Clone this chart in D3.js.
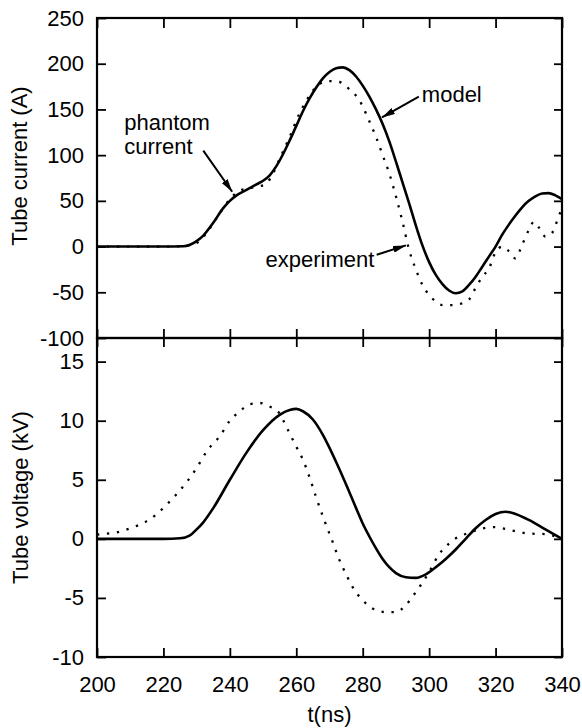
<!DOCTYPE html>
<html><head><meta charset="utf-8">
<script src="https://cdn.jsdelivr.net/npm/d3@7"></script>
<style>
body{margin:0;background:#fff}
text{font-family:"Liberation Sans",Arial,Helvetica,sans-serif;fill:#000}
</style>
</head><body>
<svg id="chart" width="582" height="728"></svg>
<script>
// ---------- data ----------
const xTicks = [200,220,240,260,280,300,320,340];
const currentTicks = [-100,-50,0,50,100,150,200,250];
const voltageTicks = [-10,-5,0,5,10,15];

const currentModelT = [200,210,220,226,228,230,232,235,238,240,242,245,248,250,252,254,256,258,260,262,264,266,268,270,272,274,276,278,280,282,284,286,288,290,292,294,296,298,300,302,304,306,308,310,312,314,316,318,320,322,324,326,328,330,332,334,336,338,340];
const currentModelV = [0,0,0,0.3,2,6,12,26,42,50,56,62,68,72,78,88,101,116,132,148,162,174,184,191,195,196,193,186,176,164,150,134,115,93,70,47,23,1,-17,-31,-41,-48,-51,-49,-42,-33,-22,-11,0,13,24,34,43,50,55,58,58.5,56,52];

const currentExpT = [200,210,220,226,230,233,236,238,240,243,246,249,251,253,255,258,261,264,267,270,273,276,279,282,284,286,288,290,292,294,296,298,300,302,304,307,310,312,314,316,318,320,322,324,326,328,330,331.5,333,335,337,339,340];
const currentExpV = [0,0,0,0.5,4,15,31,42,52,61,64,66,69,80,96,120,146,165,178,181,180,172,160,137,120,100,80,55,27,-4,-25,-42,-53,-60,-64,-64,-62,-58,-45,-33,-24,-6,0,-5,-13,2,18,27,21,11,15,33,42];

const voltModelT = [200,210,220,225,228,230,232,235,240,245,250,255,258,260,262,265,268,270,272,275,278,280,282,284,286,288,290,293,296,299,302,305,308,311,314,317,320,323,326,330,335,340];
const voltModelV = [0,0,0,0.05,0.3,0.8,1.4,2.6,5.0,7.3,9.2,10.5,10.9,11.0,10.8,10.1,8.8,7.7,6.5,4.6,2.6,1.3,0.2,-0.8,-1.7,-2.4,-2.9,-3.25,-3.3,-3.0,-2.4,-1.7,-0.9,0.0,0.9,1.6,2.1,2.3,2.1,1.6,0.8,0.0];

const voltExpT = [200,203,206,209,212,215,218,221,224,227,230,233,237,240,243,246,249,252,255,257,260,262,264,266,268,271,273,275,277,280,283,287,290,293,296,298,300,303,306,309,312,315,319,322,326,330,335,338,340];
const voltExpV = [0.35,0.45,0.55,0.8,1.1,1.5,2.1,2.9,3.8,4.8,6.0,7.4,8.7,10.0,10.8,11.4,11.5,11.2,10.6,9.5,7.8,6.7,5.2,3.5,1.9,-0.3,-1.8,-3.0,-4.1,-5.2,-5.9,-6.2,-6.2,-5.6,-4.5,-3.7,-2.8,-1.3,-0.4,0.2,0.5,0.8,1.0,0.9,0.65,0.45,0.4,0.2,0.0];

// annotations: text lines, text anchor (t, value), arrow tail and tip (t, value)
const annotations = [
  {lines:["phantom","current"], tx:208.2, ty:127.5, lineGap:24, tail:[232,105], tip:[240.7,60]},
  {lines:["model"], tx:297.8, ty:158, lineGap:0, tail:[296.9,164], tip:[285.8,141.3]},
  {lines:["experiment"], tx:283.5, ty:-22.8, lineGap:0, anchor:"end", tail:[284.2,-8.9], tip:[293,1.3]}
];

// ---------- layout ----------
const L = 97, R = 562, T = 18, M = 338, B = 657;
const svg = d3.select("#chart");
const FS = 22;
const fmt = d => String(d);

const x = d3.scaleLinear().domain([200,340]).range([L,R]);
const yI = d3.scaleLinear().domain([-100,250]).range([M,T]);
const yV = d3.scaleLinear().domain([-10,17]).range([B,M]);

const defs = svg.append("defs");
defs.append("marker").attr("id","ah").attr("markerUnits","userSpaceOnUse")
  .attr("markerWidth",14).attr("markerHeight",7).attr("refX",13).attr("refY",3.5)
  .attr("orient","auto")
  .append("path").attr("d","M0,0 L13,3.5 L0,7 Z").attr("fill","#000");

function styleAxis(g){
  g.select(".domain").remove();
  g.selectAll("line").attr("stroke","#000").attr("stroke-width",1.8);
  g.selectAll("text").attr("font-size",FS).attr("font-family","'Liberation Sans',Arial,sans-serif").attr("fill","#000");
}

// left axes with labels
svg.append("g").attr("transform",`translate(${L},0)`)
  .call(d3.axisLeft(yI).tickValues(currentTicks).tickSize(-9).tickPadding(13).tickFormat(fmt))
  .call(styleAxis);
svg.append("g").attr("transform",`translate(${L},0)`)
  .call(d3.axisLeft(yV).tickValues(voltageTicks).tickSize(-9).tickPadding(13).tickFormat(fmt))
  .call(styleAxis);
// right axes (ticks only)
svg.append("g").attr("transform",`translate(${R},0)`)
  .call(d3.axisRight(yI).tickValues(currentTicks).tickSize(-8).tickFormat(""))
  .call(styleAxis);
svg.append("g").attr("transform",`translate(${R},0)`)
  .call(d3.axisRight(yV).tickValues(voltageTicks).tickSize(-8).tickFormat(""))
  .call(styleAxis);
// top axis ticks
svg.append("g").attr("transform",`translate(0,${T})`)
  .call(d3.axisTop(x).tickValues(xTicks).tickSize(-10).tickFormat(""))
  .call(styleAxis);
// middle shared line: ticks on both sides
svg.append("g").attr("transform",`translate(0,${M})`)
  .call(d3.axisBottom(x).tickValues(xTicks).tickSize(9).tickFormat(""))
  .call(styleAxis);
svg.append("g").attr("transform",`translate(0,${M})`)
  .call(d3.axisTop(x).tickValues(xTicks).tickSize(9).tickFormat(""))
  .call(styleAxis);
// bottom axis with labels
svg.append("g").attr("transform",`translate(0,${B})`)
  .call(d3.axisBottom(x).tickValues(xTicks).tickSize(-9).tickPadding(19).tickFormat(fmt))
  .call(styleAxis);

// frames
svg.append("rect").attr("x",L).attr("y",T).attr("width",R-L).attr("height",M-T)
  .attr("fill","none").attr("stroke","#000").attr("stroke-width",2.2);
svg.append("rect").attr("x",L).attr("y",M).attr("width",R-L).attr("height",B-M)
  .attr("fill","none").attr("stroke","#000").attr("stroke-width",2.2);

// lines
function drawLine(ts, vs, ys, dotted){
  const data = ts.map((t,i)=>[t,vs[i]]);
  const line = d3.line().x(d=>x(d[0])).y(d=>ys(d[1])).curve(d3.curveMonotoneX);
  const p = svg.append("path").datum(data).attr("d",line).attr("fill","none").attr("stroke","#000");
  if(dotted){ p.attr("stroke-width",2.3).attr("stroke-dasharray","2.3 7.7"); }
  else { p.attr("stroke-width",2.6).attr("stroke-linejoin","round"); }
}
drawLine(currentExpT, currentExpV, yI, true);
drawLine(currentModelT, currentModelV, yI, false);
drawLine(voltExpT, voltExpV, yV, true);
drawLine(voltModelT, voltModelV, yV, false);

// annotations
annotations.forEach(a=>{
  const t = svg.append("text").attr("font-size",FS)
    .attr("text-anchor",a.anchor||"start");
  a.lines.forEach((s,i)=>{
    t.append("tspan").attr("x",x(a.tx)).attr("y",yI(a.ty)+i*a.lineGap).text(s);
  });
  svg.append("line")
    .attr("x1",x(a.tail[0])).attr("y1",yI(a.tail[1]))
    .attr("x2",x(a.tip[0])).attr("y2",yI(a.tip[1]))
    .attr("stroke","#000").attr("stroke-width",2).attr("marker-end","url(#ah)");
});

// axis titles
svg.append("text").attr("font-size",FS).attr("text-anchor","middle")
  .attr("transform",`translate(27,${(yI(250)+yI(-100))/2 - 12}) rotate(-90)`)
  .text("Tube current (A)");
svg.append("text").attr("font-size",FS).attr("text-anchor","middle")
  .attr("transform",`translate(28,${(yV(17)+yV(-10))/2}) rotate(-90)`)
  .text("Tube voltage (kV)");
svg.append("text").attr("font-size",FS).attr("text-anchor","middle")
  .attr("x",(L+R)/2).attr("y",722).text("t(ns)");
</script>
</body></html>
